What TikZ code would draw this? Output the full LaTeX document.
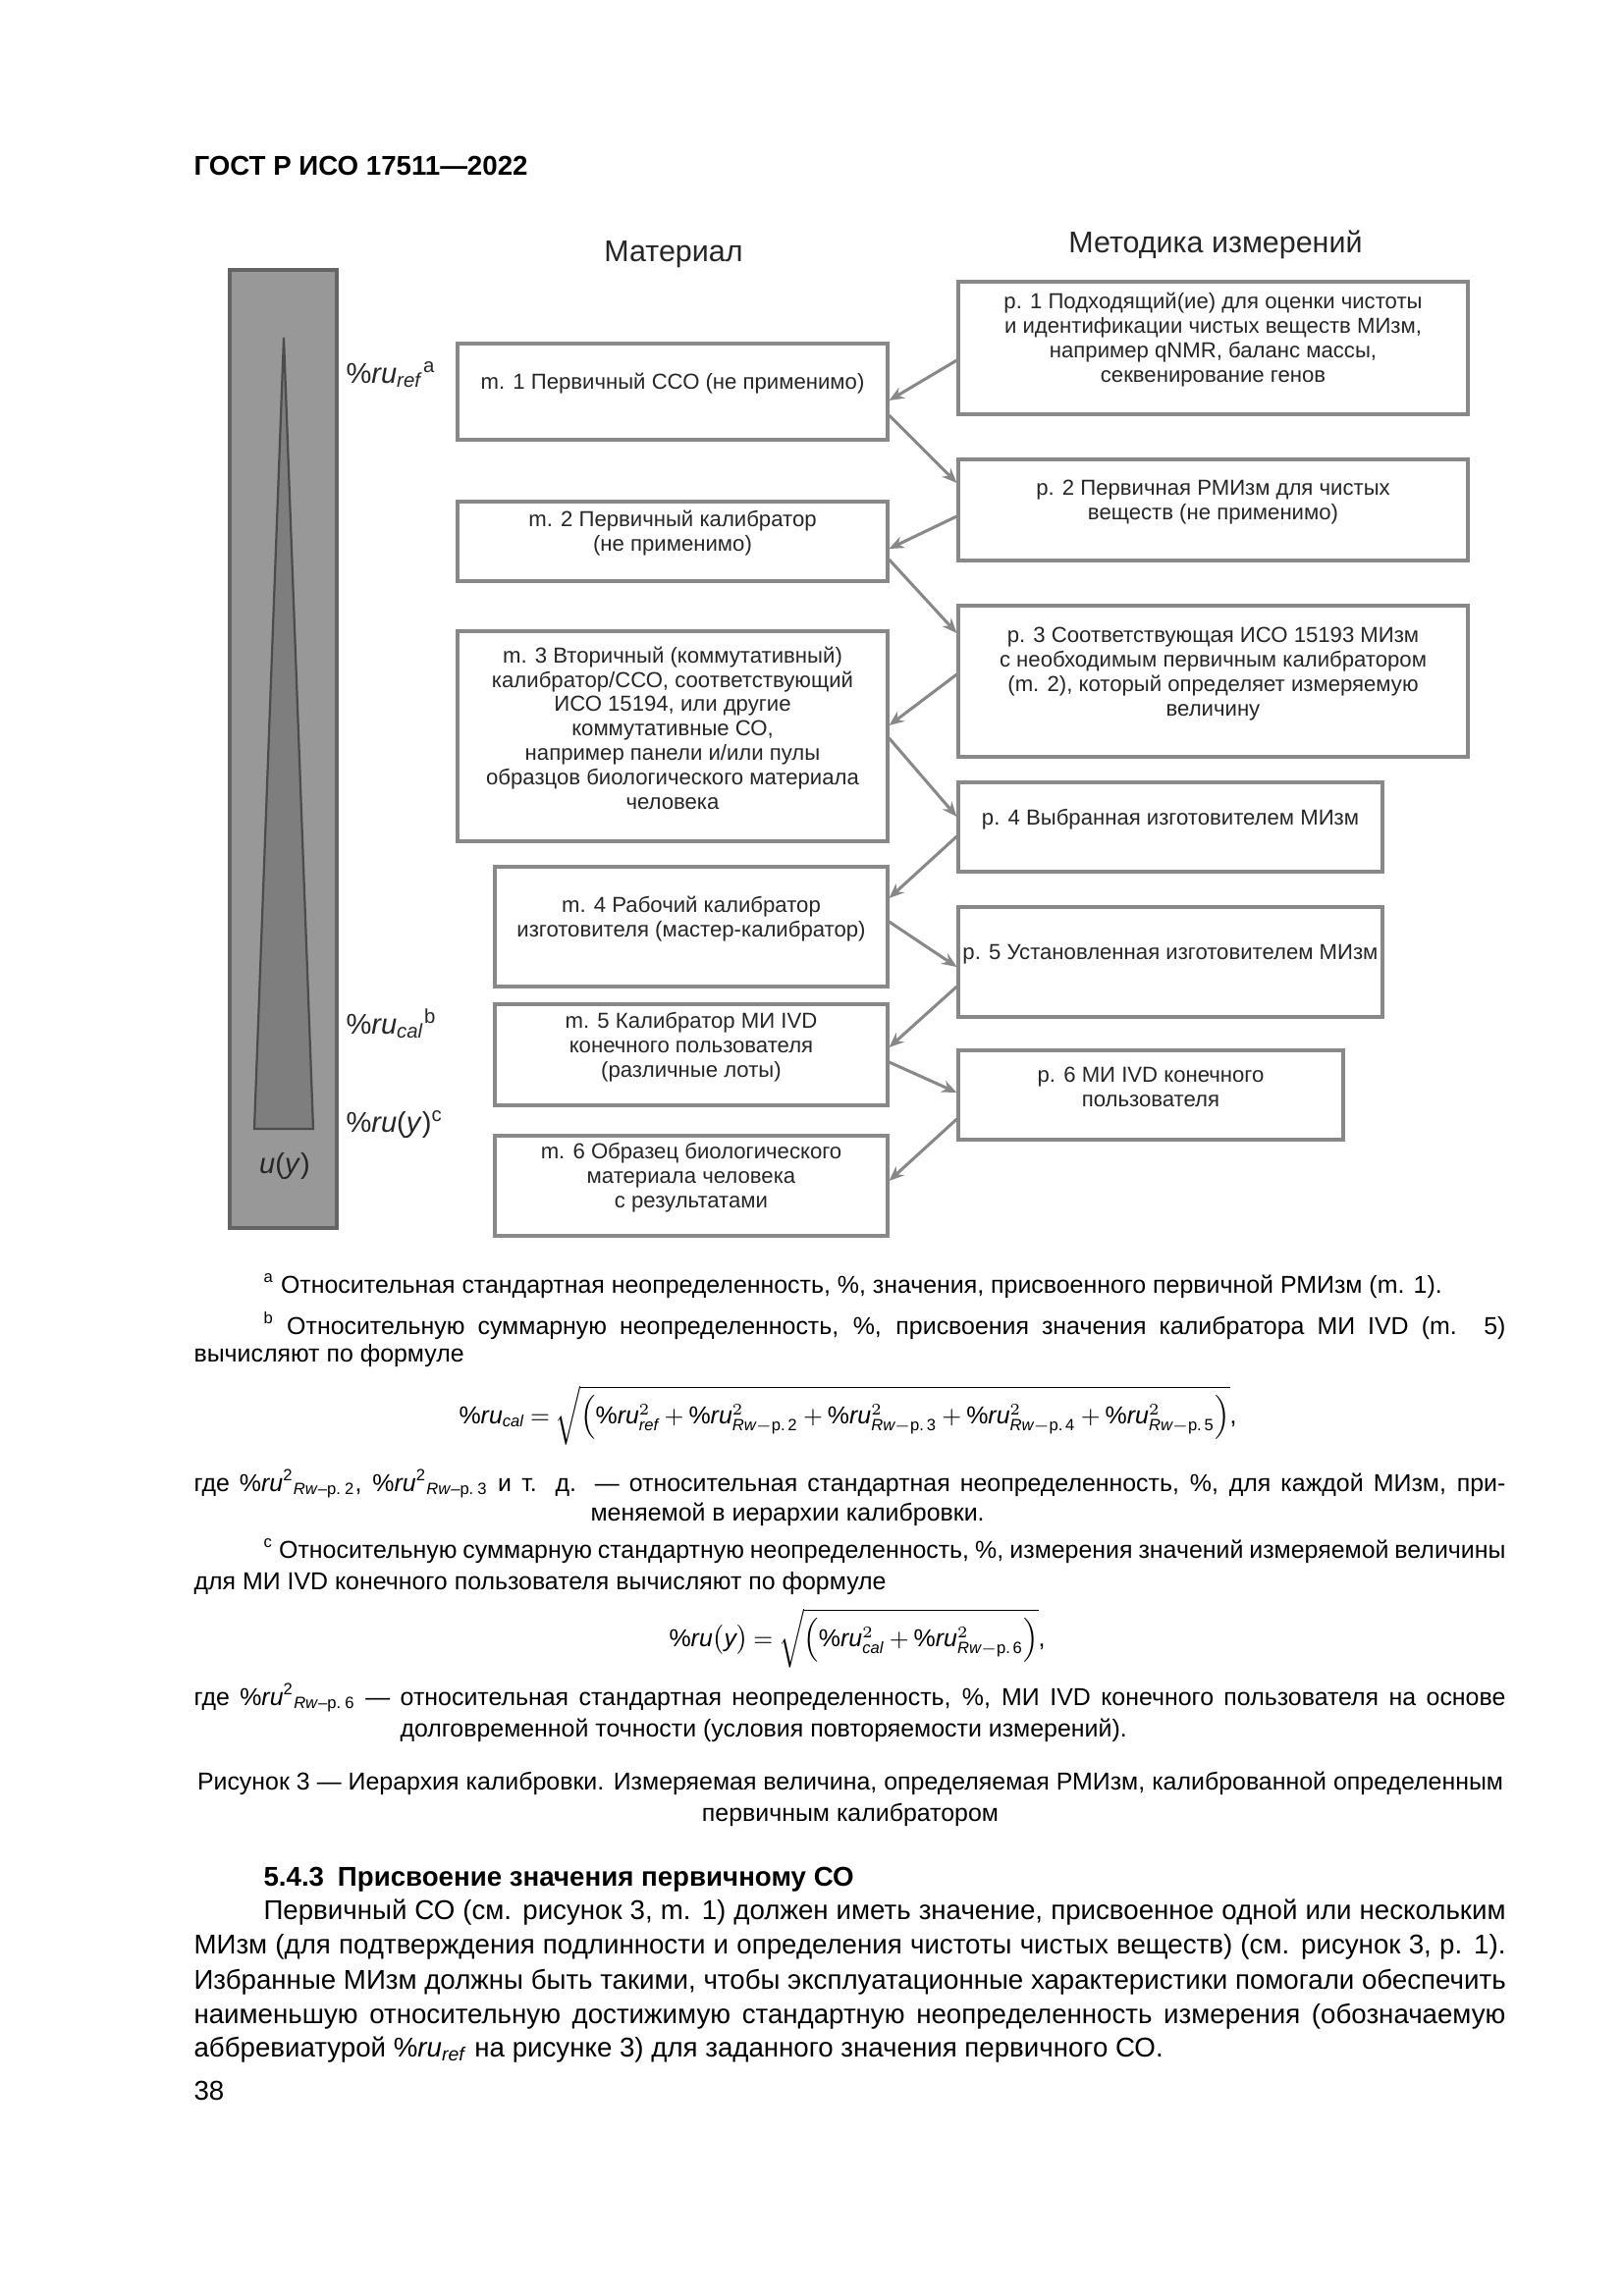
\documentclass[tikz,border=0pt]{standalone}
\usepackage{fontspec}
\setmainfont{Liberation Sans}
\usepackage{amsmath}
\usetikzlibrary{positioning, fit, arrows.meta}
\definecolor{linegray}{RGB}{136,136,136}
\definecolor{bargray}{RGB}{152,152,152}
\definecolor{bardark}{RGB}{100,100,100}
\definecolor{wedgegray}{RGB}{126,126,126}
\newlength{\pxu}
\setlength{\pxu}{0.126977mm}
\newcommand{\rv}{\text{\itshape ru}}
\newcommand{\rwp}[1]{\text{\itshape Rw}{-}\text{р.\,#1}}
\newcommand{\rtxt}[1]{\%\textit{ru}\textsuperscript{2}\textsubscript{\textit{Rw}–р.\kern0.25em#1}}
\newcommand{\tightmath}{\medmuskip=3.5mu plus 1mu\thickmuskip=4mu plus 2mu}
\begin{document}
\begin{tikzpicture}[x=0.126977mm, y=-0.126977mm,
		box/.style={draw=linegray, line width=1.1pt, inner sep=0pt, align=center,
			font=\fontsize{8}{9}\selectfont, text=black!85},
		arr/.style={draw=linegray, line width=1.1pt, -{Stealth[length=5.5pt, width=4.5pt]}},
		txt/.style={anchor=base west, inner sep=0pt, font=\fontsize{9}{11}\selectfont},
		body/.style={anchor=base west, inner sep=0pt, font=\fontsize{10}{12}\selectfont},
		lbl/.style={anchor=base west, inner sep=0pt, font=\fontsize{10.5}{12}\selectfont, text=black!85},
		head/.style={anchor=base, inner sep=0pt, font=\fontsize{11}{13}\selectfont, text=black!85}
		]
		\fill[white] (0,0) rectangle (1654,2339);
		\useasboundingbox (0,0) rectangle (1654,2339);
		\node[body, font=\fontsize{10}{12}\selectfont\bfseries] (gost) at (197,178) {ГОСТ Р ИСО 17511—2022};
		% scale bar
		\node[draw=bardark, fill=bargray, line width=1.1pt, inner sep=0pt, fit={(234,275) (343,1251)}] (bar) {};
		\filldraw[draw=black!70, fill=wedgegray, line width=0.8pt] (289,344) -- (319,1150) -- (259,1150) -- cycle;
		\node[lbl] (ruref) at (352,390) {\%\textit{ru}\textsubscript{\textit{ref}}\textsuperscript{a}};
		\node[lbl] (rucal) at (352,1053) {\%\textit{ru}\textsubscript{\textit{cal}}\textsuperscript{b}};
		\node[lbl] (ruy) at (352,1153) {\%\textit{ru}(\textit{y})\textsuperscript{c}};
		\node[lbl, anchor=center] (uy) at (290,1188) {\textit{u}(\textit{y})};
		\node[head] (mat) at (686,266) {Материал};
		\node[head] (met) at (1238,257) {Методика измерений};
		% material
		\node[box, fit={(466,350) (904,448)}] (m1) {m. 1 Первичный ССО (не применимо)};
		\node[box, fit={(466,511) (904,592)}] (m2) {m. 2 Первичный калибратор\\(не применимо)};
		\node[box, fit={(466,643) (904,857)}] (m3) {m. 3 Вторичный (коммутативный)\\калибратор/ССО, соответствующий\\ИСО 15194, или другие\\коммутативные СО,\\например панели и/или пулы\\образцов биологического материала\\человека};
		\node[box, fit={(504,883) (904,1005)}] (m4) {m. 4 Рабочий калибратор\\изготовителя (мастер-калибратор)};
		\node[box, fit={(504,1023) (904,1126)}] (m5) {m. 5 Калибратор МИ IVD\\конечного пользователя\\(различные лоты)};
		\node[box, fit={(504,1157) (904,1259)}] (m6) {m. 6 Образец биологического\\материала человека\\с результатами};
		% procedures
		\node[box, fit={(976,287) (1495,422)}] (p1) {р. 1 Подходящий(ие) для оценки чистоты\\и идентификации чистых веществ МИзм,\\например qNMR, баланс массы,\\секвенирование генов};
		\node[box, fit={(976,468) (1495,571)}] (p2) {р. 2 Первичная РМИзм для чистых\\веществ (не применимо)};
		\node[box, fit={(976,617) (1495,771)}] (p3) {р. 3 Соответствующая ИСО 15193 МИзм\\с необходимым первичным калибратором\\(m. 2), который определяет измеряемую\\величину};
		\node[box, fit={(976,797) (1408,888)}] (p4) {р. 4 Выбранная изготовителем МИзм};
		\node[box, fit={(976,924) (1408,1036)}] (p5) {р. 5 Установленная изготовителем МИзм};
		\node[box, fit={(976,1070) (1368,1161)}] (p6) {р. 6 МИ IVD конечного\\пользователя};
		\draw[arr] (p1.west |- 0,367) -- (m1.east |- 0,408);
		\draw[arr] (m1.east |- 0,423) -- (p2.west |- 0,492);
		\draw[arr] (p2.west |- 0,526) -- (m2.east |- 0,559);
		\draw[arr] (m2.east |- 0,570) -- (p3.west |- 0,645);
		\draw[arr] (p3.west |- 0,687) -- (m3.east |- 0,739);
		\draw[arr] (m3.east |- 0,752) -- (p4.west |- 0,832);
		\draw[arr] (p4.west |- 0,852) -- (m4.east |- 0,915);
		\draw[arr] (m4.east |- 0,939) -- (p5.west |- 0,985);
		\draw[arr] (p5.west |- 0,1005) -- (m5.east |- 0,1067);
		\draw[arr] (m5.east |- 0,1082) -- (p6.west |- 0,1113);
		\draw[arr] (p6.west |- 0,1140) -- (m6.east |- 0,1203);
		% notes
		\node[txt] (fa) at (268,1317) {\textsuperscript{a} Относительная стандартная неопределенность, \%, значения, присвоенного первичной РМИзм (m. 1).};
		\node[txt] (fb1) at (268,1359) {\makebox[1265\pxu][s]{\textsuperscript{b} Относительную суммарную неопределенность, \%, присвоения значения калибратора МИ IVD (m. 5)}};
		\node[txt] (fb2) at (197,1387) {вычисляют по формуле};
		\node[txt] (f1) at (467,1450) {\tightmath$\%\rv_{\text{\itshape cal}} = \sqrt{\left(\%\rv^2_{\text{\itshape ref}} + \%\rv^2_{\rwp{2}} + \%\rv^2_{\rwp{3}} + \%\rv^2_{\rwp{4}} + \%\rv^2_{\rwp{5}}\right)}$,};
		\node[txt] (g1) at (197,1519) {\makebox[1336\pxu][s]{где \rtxt{2}, \rtxt{3} и т. д. — относительная стандартная неопределенность, \%, для каждой МИзм, при-}};
		\node[txt] (g2) at (601,1549) {меняемой в иерархии калибровки.};
		\node[txt] (fc1) at (268,1587) {\makebox[1265\pxu][s]{\textsuperscript{c} Относительную суммарную стандартную неопределенность, \%, измерения значений измеряемой величины}};
		\node[txt] (fc2) at (197,1619) {для МИ IVD конечного пользователя вычисляют по формуле};
		\node[txt] (f2) at (681,1677) {\tightmath$\%\rv\bigl(\text{\itshape y}\bigr) = \sqrt{\left(\%\rv^2_{\text{\itshape cal}} + \%\rv^2_{\rwp{6}}\right)}$,};
		\node[txt] (g3) at (197,1737) {\makebox[1336\pxu][s]{где \rtxt{6} — относительная стандартная неопределенность, \%, МИ IVD конечного пользователя на основе}};
		\node[txt] (g4) at (407,1769) {долговременной точности (условия повторяемости измерений).};
		% caption
		\node[txt, anchor=base] (cap1) at (866,1823) {\makebox[1330\pxu][s]{Рисунок 3 — Иерархия калибровки. Измеряемая величина, определяемая РМИзм, калиброванной определенным}};
		\node[txt, anchor=base] (cap2) at (866,1855) {первичным калибратором};
		% section text
		\node[body, font=\fontsize{10}{12}\selectfont\bfseries] (sec) at (268,1921) {5.4.3\enspace Присвоение значения первичному СО};
		\node[body] (t1) at (268,1955) {\makebox[1265\pxu][s]{Первичный СО (см. рисунок 3, m. 1) должен иметь значение, присвоенное одной или нескольким}};
		\node[body] (t2) at (197,1990) {\makebox[1336\pxu][s]{МИзм (для подтверждения подлинности и определения чистоты чистых веществ) (см. рисунок 3, р. 1).}};
		\node[body] (t3) at (197,2026) {\makebox[1336\pxu][s]{Избранные МИзм должны быть такими, чтобы эксплуатационные характеристики помогали обеспечить}};
		\node[body] (t4) at (197,2061) {\makebox[1336\pxu][s]{наименьшую относительную достижимую стандартную неопределенность измерения (обозначаемую}};
		\node[body] (t5) at (197,2095) {аббревиатурой \%\textit{ru}\textsubscript{\textit{ref}} на рисунке 3) для заданного значения первичного СО.};
		\node[body] (pg) at (197,2139) {38};
\end{tikzpicture}
\end{document}
